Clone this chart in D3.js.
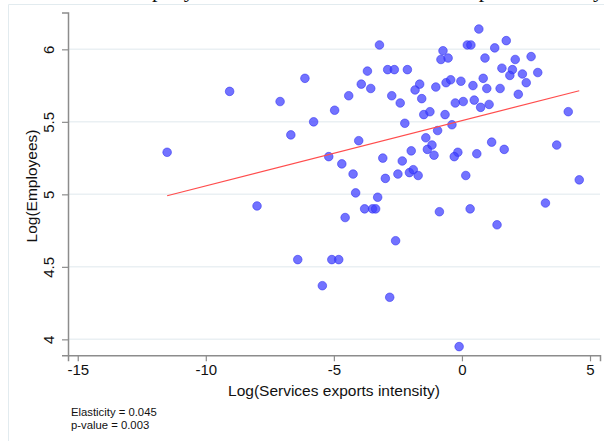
<!DOCTYPE html>
<html>
<head>
<meta charset="utf-8">
<script src="https://cdn.jsdelivr.net/npm/d3@7"></script>
<style>
  html, body { margin: 0; padding: 0; background: #fff; }
  svg { display: block; }
</style>
</head>
<body>
<svg id="chart" width="604" height="441"></svg>
<script>
// Firm-level observations: log services exports intensity (x) and log employees (y)
const exportsIntensity = [
  -11.51, -9.07, -7.10, -6.13, -6.68, -5.79, -4.97, -4.42, -3.93, -3.69,
  -3.56, -3.22, -4.03, -5.20, -4.69, -4.25, -4.15, -3.29, -2.90, -2.64,
  -2.13, -2.74, -2.41, -1.83, -1.65, -1.57, -1.49, -1.25, -2.23, -1.41,
  -0.95, -0.66, -0.39, -1.02, -0.62, -0.44, -0.04, 0.43, 0.83, 0.97,
  1.49, -0.26, 0.05, 0.48, 0.73, 1.06, -0.82, -0.54, -0.74, 0.21,
  0.35, 0.66, 0.90, 1.28, 1.73, 1.56, 1.97, 2.08, 1.87, 2.36,
  2.70, 2.96, 2.51, 2.20, 4.15, 3.70, 4.58, 1.16, 1.65, 0.58,
  -0.16, -0.30, 0.15, -1.09, -1.35, -1.17, -1.98, -2.33, -3.09, -2.99,
  -2.50, -2.05, -1.90, -1.71, -8.00, -4.56, -3.80, -3.49, -3.37, -6.41,
  -5.08, -4.81, -5.45, -0.88, 0.32, 1.37, 3.26, -2.59, -2.82, -0.11
];
const logEmployees = [
  5.29, 5.71, 5.64, 5.80, 5.41, 5.50, 5.58, 5.68, 5.76, 5.85,
  5.73, 6.03, 5.37, 5.26, 5.21, 5.14, 5.01, 4.98, 5.86, 5.86,
  5.86, 5.68, 5.63, 5.72, 5.76, 5.66, 5.55, 5.57, 5.49, 5.39,
  5.44, 5.55, 5.48, 5.74, 5.77, 5.79, 5.78, 5.75, 5.80, 5.73,
  5.73, 5.63, 5.64, 5.65, 5.60, 5.62, 5.93, 5.94, 5.99, 6.03,
  6.03, 6.14, 5.94, 6.01, 6.06, 5.87, 5.86, 5.93, 5.82, 5.83,
  5.95, 5.84, 5.77, 5.69, 5.57, 5.34, 5.10, 5.36, 5.31, 5.28,
  5.29, 5.26, 5.13, 5.27, 5.31, 5.34, 5.30, 5.23, 5.25, 5.11,
  5.14, 5.15, 5.17, 5.13, 4.92, 4.84, 4.90, 4.90, 4.90, 4.55,
  4.55, 4.55, 4.37, 4.88, 4.90, 4.79, 4.94, 4.68, 4.29, 3.95
];

// Fitted line: slope equals the reported elasticity
const elasticity = 0.045;
const pValue = 0.003;
const fitIntercept = 5.508;

const xTicks = [-15, -10, -5, 0, 5];
const yTicks = [4, 4.5, 5, 5.5, 6];

const titleText = "Company size and the level of services exports intensity";
const xTitle = "Log(Services exports intensity)";
const yTitle = "Log(Employees)";

const svg = d3.select("#chart");
const font = "'Liberation Sans', Arial, Helvetica, sans-serif";

// plot region
const plotLeft = 68, plotRight = 600, plotTop = 12.5, plotBottom = 355.3;

const x = d3.scaleLinear().domain([-15.38, 5.39]).range([plotLeft, plotRight]);
const y = d3.scaleLinear().domain([3.89, 6.254]).range([plotBottom, plotTop]);

// outer frame of the graph region
svg.append("path")
  .attr("d", "M8.5,441 L8.5,4.5 L604,4.5")
  .attr("fill", "none")
  .attr("stroke", "#e2ebef")
  .attr("stroke-width", 1);

// figure title (sits above the visible area)
svg.append("text")
  .attr("x", 604).attr("y", -3)
  .attr("text-anchor", "end")
  .attr("font-family", "'Liberation Serif', 'Times New Roman', serif")
  .attr("font-size", 22)
  .attr("fill", "#111")
  .text(titleText);

// horizontal gridlines
svg.append("g").selectAll("line")
  .data(yTicks)
  .join("line")
  .attr("x1", plotLeft).attr("x2", plotRight)
  .attr("y1", d => y(d)).attr("y2", d => y(d))
  .attr("stroke", "#eaf0f3")
  .attr("stroke-width", 1.5);

// x axis
const xAxis = svg.append("g")
  .attr("transform", `translate(0,${plotBottom})`)
  .call(d3.axisBottom(x).tickValues(xTicks).tickSize(6).tickPadding(3).tickFormat(d3.format("d")));
xAxis.select(".domain").attr("stroke", "#8c8c8c").attr("stroke-width", 1.5);
xAxis.selectAll(".tick line").attr("stroke", "#8c8c8c").attr("stroke-width", 1.2);
xAxis.selectAll(".tick text")
  .attr("font-family", font).attr("font-size", 15).attr("fill", "#111")
  .text(d => d < 0 ? "-" + Math.abs(d) : String(d));

// y axis with vertical tick labels
const yAxis = svg.append("g")
  .attr("transform", `translate(${plotLeft},0)`)
  .call(d3.axisLeft(y).tickValues(yTicks).tickSize(6).tickFormat(d => String(d)));
yAxis.select(".domain").attr("stroke", "#8c8c8c").attr("stroke-width", 1.5);
yAxis.selectAll(".tick line").attr("stroke", "#8c8c8c").attr("stroke-width", 1.2);
yAxis.selectAll(".tick text")
  .attr("font-family", font).attr("font-size", 15).attr("fill", "#111")
  .attr("x", null).attr("dy", null)
  .attr("text-anchor", "middle")
  .attr("transform", "translate(-14,0) rotate(-90)");

// axis titles
svg.append("text")
  .attr("x", (plotLeft + plotRight) / 2).attr("y", 395.6)
  .attr("text-anchor", "middle")
  .attr("font-family", font).attr("font-size", 15.5).attr("fill", "#111")
  .text(xTitle);

svg.append("text")
  .attr("transform", "translate(37,186) rotate(-90)")
  .attr("text-anchor", "middle")
  .attr("font-family", font).attr("font-size", 15.5).attr("fill", "#111")
  .text(yTitle);

// scatter points
svg.append("g").selectAll("circle")
  .data(exportsIntensity.map((v, i) => [v, logEmployees[i]]))
  .join("circle")
  .attr("cx", d => x(d[0]))
  .attr("cy", d => y(d[1]))
  .attr("r", 4.3)
  .attr("fill", "#3c3cff")
  .attr("fill-opacity", 0.72)
  .attr("stroke", "#3030f0")
  .attr("stroke-opacity", 0.55)
  .attr("stroke-width", 1);

// fitted line across the observed range
const [xMin, xMax] = d3.extent(exportsIntensity);
svg.append("line")
  .attr("x1", x(xMin)).attr("y1", y(fitIntercept + elasticity * xMin))
  .attr("x2", x(xMax)).attr("y2", y(fitIntercept + elasticity * xMax))
  .attr("stroke", "#ff4d4d")
  .attr("stroke-width", 1.2);

// estimate notes, two tight lines
const notes = svg.append("text")
  .attr("font-family", font).attr("font-size", 11.3).attr("fill", "#111");
notes.append("tspan")
  .attr("x", 71).attr("y", 415.6)
  .text(`Elasticity = ${elasticity.toFixed(3)}`);
notes.append("tspan")
  .attr("x", 71).attr("y", 428.5)
  .text(`p-value = ${pValue.toFixed(3)}`);
</script>
</body>
</html>
